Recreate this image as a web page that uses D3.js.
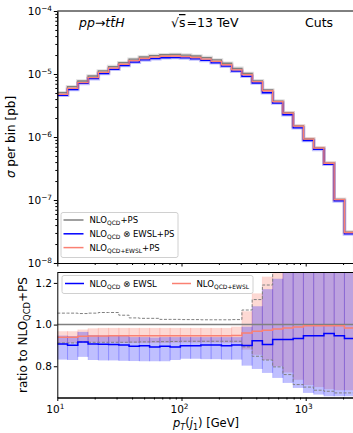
<!DOCTYPE html>
<html>
<head>
<meta charset="utf-8">
<script src="https://cdn.jsdelivr.net/npm/d3@7"></script>
<style>
  body { margin: 0; background: #fff; }
  svg { font-family: "DejaVu Sans", sans-serif; display: block; }
</style>
</head>
<body>
<div id="chart"></div>
<script>
// pT(j1) bin edges [GeV]
const binEdges = [10, 12.09, 14.63, 17.69, 21.40, 25.88, 31.29, 37.85, 45.77, 55.36, 66.94,
    80.96, 97.92, 118.4, 143.2, 173.2, 209.5, 253.4, 306.4, 370.6, 448.1,
    541.9, 655.4, 792.7, 958.7, 1159, 1402, 1696, 2051, 2481, 3000];

// NLO_QCD+PS, sigma per bin [pb]
const sigmaQcdPs = [5.05e-6, 6.3e-6, 7.74e-6, 9.3e-6, 1.12e-5, 1.31e-5, 1.51e-5, 1.72e-5, 1.86e-5, 1.96e-5,
    2.02e-5, 2.04e-5, 2.0e-5, 1.93e-5, 1.82e-5, 1.67e-5, 1.48e-5, 1.23e-5, 1.02e-5, 7.8e-6,
    5.57e-6, 3.72e-6, 2.43e-6, 1.5e-6, 9.3e-7, 6.7e-7, 3.85e-7, 1.02e-7, 3.1e-8, 1.2e-8];

// ratios to NLO_QCD+PS
const ratioMult = [0.907, 0.901, 0.917, 0.907, 0.906, 0.905, 0.902, 0.896, 0.899, 0.893,
    0.896, 0.893, 0.899, 0.899, 0.902, 0.902, 0.899, 0.902, 0.900, 0.923,
    0.905, 0.928, 0.928, 0.933, 0.947, 0.947, 0.957, 0.947, 0.933, 0.930];
const ratioAdd = [0.939, 0.939, 0.944, 0.945, 0.945, 0.946, 0.946, 0.946, 0.947, 0.947,
    0.947, 0.947, 0.947, 0.947, 0.947, 0.947, 0.947, 0.948, 0.960, 0.968,
    0.973, 0.979, 0.984, 0.989, 0.995, 0.995, 0.995, 0.995, 0.984, 0.980];

// scale uncertainty of NLO_QCD+PS (dashed)
const qcdUp = [1.055, 1.055, 1.053, 1.055, 1.058, 1.058, 1.045, 1.032, 1.030, 1.030,
    1.025, 1.025, 1.024, 1.024, 1.023, 1.023, 1.023, 1.024, 1.070, 1.120,
    1.190, 1.320, 1.400, 1.450, 1.500, 1.500, 1.500, 1.500, 1.500, 1.500];
const qcdDown = [0.912, 0.912, 0.917, 0.915, 0.915, 0.915, 0.915, 0.916, 0.917, 0.918,
    0.918, 0.919, 0.920, 0.920, 0.920, 0.920, 0.920, 0.920, 0.893, 0.848,
    0.830, 0.797, 0.760, 0.712, 0.700, 0.685, 0.680, 0.672, 0.672, 0.670];

// bands of NLO_QCD x EWSL
const multDown = [0.832, 0.830, 0.845, 0.830, 0.828, 0.828, 0.826, 0.825, 0.824, 0.824,
    0.824, 0.830, 0.836, 0.836, 0.834, 0.834, 0.832, 0.832, 0.803, 0.787,
    0.768, 0.744, 0.720, 0.696, 0.672, 0.664, 0.656, 0.656, 0.656, 0.650];
const multUp = [0.947, 0.945, 0.965, 0.950, 0.948, 0.947, 0.945, 0.940, 0.940, 0.938,
    0.940, 0.940, 0.940, 0.940, 0.940, 0.940, 0.940, 0.940, 0.990, 1.088,
    1.170, 1.220, 1.300, 1.400, 1.500, 1.500, 1.500, 1.500, 1.500, 1.500];

// bands of NLO_QCD+EWSL
const addDown = [0.912, 0.912, 0.915, 0.914, 0.914, 0.914, 0.913, 0.912, 0.912, 0.912,
    0.912, 0.913, 0.914, 0.914, 0.914, 0.914, 0.913, 0.913, 0.880, 0.855,
    0.830, 0.800, 0.770, 0.735, 0.710, 0.700, 0.690, 0.685, 0.685, 0.680];
const addUp = [0.968, 0.968, 0.976, 0.982, 0.984, 0.984, 0.984, 0.984, 0.984, 0.984,
    0.984, 0.984, 0.984, 0.984, 0.984, 0.984, 0.984, 0.990, 1.064, 1.150,
    1.230, 1.300, 1.400, 1.500, 1.500, 1.500, 1.500, 1.500, 1.500, 1.500];

const yTopTicks = [-8, -7, -6, -5, -4];
const yRatioTicks = [0.8, 1.0, 1.2];
const xTickExp = [1, 2, 3];

const W = 353, H = 433;
const cGray = "#808080", cBlue = "#0000ff", cRed = "#fa8072";

const svg = d3.select("#chart").append("svg")
    .attr("width", W)
    .attr("height", H);

// scales
const x = d3.scaleLog().domain([10, 3000]).range([57.3, 57.3 + 124.2 * Math.log10(300)]);
const yTop = d3.scaleLog().domain([1e-8, 1e-4]).range([263, 11]);
const yRat = d3.scaleLinear().domain([0.65, 1.25]).range([397.5, 272.5]);

const defs = svg.append("defs");
defs.append("clipPath").attr("id", "clipTop").append("rect")
    .attr("x", x(10)).attr("y", 11).attr("width", 320).attr("height", 252);
defs.append("clipPath").attr("id", "clipRat").append("rect")
    .attr("x", x(10)).attr("y", 272.5).attr("width", 320).attr("height", 125);

// minor ticks for log axes
const xMinor = [];
[10, 100, 1000].forEach(d => { for (let m = 2; m <= 9; m++) if (d * m <= 3000) xMinor.push(d * m); });
const yMinor = [];
[1e-8, 1e-7, 1e-6, 1e-5].forEach(d => { for (let m = 2; m <= 9; m++) yMinor.push(d * m); });

// text with sub/superscripts: parts = [[text, "sub"|"sup"|null, italic], ...]
function rich(sel, parts, size) {
    let shift = 0;
    parts.forEach(p => {
        const t = sel.append("tspan").text(p[0]);
        let target = 0;
        if (p[1] === "sub") target = size * 0.25;
        if (p[1] === "sup") target = -size * 0.42;
        t.attr("dy", target - shift);
        shift = target;
        t.style("font-size", p[1] ? (size * 0.7) + "px" : size + "px");
        if (p[2]) t.style("font-style", "italic");
    });
    return sel;
}

function stepLine(vals, y) {
    const pts = binEdges.map((e, i) => [e, vals[Math.min(i, vals.length - 1)]]);
    return d3.line().x(d => x(d[0])).y(d => y(d[1])).curve(d3.curveStepAfter)(pts);
}

/* ---------- top panel ---------- */
const topPanel = svg.append("g");
const topPlot = topPanel.append("g").attr("clip-path", "url(#clipTop)");

const curves = [
    {vals: sigmaQcdPs, color: cGray},
    {vals: sigmaQcdPs.map((v, i) => v * ratioMult[i]), color: cBlue},
    {vals: sigmaQcdPs.map((v, i) => v * ratioAdd[i]), color: cRed}
];
curves.forEach(c => {
    topPlot.append("path")
        .attr("d", stepLine(c.vals, yTop))
        .attr("fill", "none")
        .attr("stroke", c.color)
        .attr("stroke-opacity", 0.25)
        .attr("stroke-width", 3.5);
});
curves.forEach(c => {
    topPlot.append("path")
        .attr("d", stepLine(c.vals, yTop))
        .attr("fill", "none")
        .attr("stroke", c.color)
        .attr("stroke-width", 1.3);
});

// axes of top panel
topPanel.append("g").attr("transform", `translate(${x(10)},0)`)
    .call(d3.axisLeft(yTop).tickValues(yMinor).tickSize(2).tickSizeOuter(0).tickFormat(""));
topPanel.append("g").attr("transform", `translate(${x(10)},0)`)
    .call(d3.axisLeft(yTop).tickValues(yTopTicks.map(e => Math.pow(10, e))).tickSize(3.5).tickSizeOuter(0).tickFormat(""));
topPanel.append("g").attr("transform", "translate(0,263)")
    .call(d3.axisBottom(x).tickValues(xMinor).tickSize(2).tickSizeOuter(0).tickFormat(""));
topPanel.append("g").attr("transform", "translate(0,263)")
    .call(d3.axisBottom(x).tickValues(xTickExp.map(e => Math.pow(10, e))).tickSize(3.5).tickSizeOuter(0).tickFormat(""));
topPanel.append("line").attr("x1", x(10)).attr("x2", W).attr("y1", 11).attr("y2", 11)
    .attr("stroke", "#000").attr("stroke-width", 1);

yTopTicks.forEach(e => {
    const t = topPanel.append("text")
        .attr("x", 52).attr("y", yTop(Math.pow(10, e)) + 4)
        .attr("text-anchor", "end");
    rich(t, [["10", null], ["\u2212" + Math.abs(e), "sup"]], 10.5);
});

// annotations
const ann1 = topPanel.append("text").attr("x", 79).attr("y", 27);
rich(ann1, [["pp", null, true], ["\u2192", null], ["t", null, true], ["t\u0304", null, true], ["H", null, true]], 12.5);
const ann2 = topPanel.append("text").attr("x", 171).attr("y", 27).style("font-size", "12.5px");
ann2.append("tspan").text("\u221A");
ann2.append("tspan").text("s").style("text-decoration", "overline");
ann2.append("tspan").text("=13 TeV").attr("dx", 1);
topPanel.append("text").attr("x", 305).attr("y", 27).style("font-size", "12.5px").text("Cuts");

topPanel.append("text")
    .attr("transform", `translate(15,${(11 + 263) / 2}) rotate(-90)`)
    .attr("text-anchor", "middle")
    .call(s => rich(s, [["\u03C3", null, true], [" per bin [pb]", null]], 12));

// legend top
const leg1 = topPanel.append("g");
leg1.append("rect").attr("x", 61).attr("y", 212.5).attr("width", 117).attr("height", 45)
    .attr("rx", 2).attr("fill", "#fff").attr("fill-opacity", 0.8).attr("stroke", "#d0d0d0");
const legItems1 = [
    {color: cGray, parts: [["NLO", null], ["QCD", "sub"], ["+PS", null]]},
    {color: cBlue, parts: [["NLO", null], ["QCD", "sub"], [" \u2297 EWSL+PS", null]]},
    {color: cRed, parts: [["NLO", null], ["QCD+EWSL", "sub"], ["+PS", null]]}
];
legItems1.forEach((d, i) => {
    const yy = 220 + i * 13.8;
    leg1.append("line").attr("x1", 63.5).attr("x2", 83.5).attr("y1", yy).attr("y2", yy)
        .attr("stroke", d.color).attr("stroke-width", 1.5);
    rich(leg1.append("text").attr("x", 89.5).attr("y", yy + 3), d.parts, 8.5);
});

/* ---------- ratio panel ---------- */
const rat = svg.append("g");
const ratPlot = rat.append("g").attr("clip-path", "url(#clipRat)");

function bandRects(lo, hi, color, op) {
    const g = ratPlot.append("g");
    lo.forEach((v, i) => {
        const x0 = x(binEdges[i]), x1 = x(binEdges[i + 1]);
        g.append("rect").attr("x", x0).attr("width", x1 - x0)
            .attr("y", yRat(hi[i])).attr("height", yRat(v) - yRat(hi[i]))
            .attr("fill", color).attr("fill-opacity", op);
        [x0, x1].forEach(xx => g.append("line")
            .attr("x1", xx).attr("x2", xx).attr("y1", yRat(hi[i])).attr("y2", yRat(v))
            .attr("stroke", color).attr("stroke-opacity", op * 0.6).attr("stroke-width", 1));
    });
}
bandRects(addDown, addUp, cRed, 0.3);
bandRects(multDown, multUp, cBlue, 0.25);

ratPlot.append("line").attr("x1", x(10)).attr("x2", W).attr("y1", yRat(1)).attr("y2", yRat(1))
    .attr("stroke", cGray).attr("stroke-width", 1.5);

[qcdUp, qcdDown].forEach(v => {
    ratPlot.append("path").attr("d", stepLine(v, yRat))
        .attr("fill", "none").attr("stroke", cGray).attr("stroke-width", 1)
        .attr("stroke-dasharray", "3,1.6");
});
ratPlot.append("path").attr("d", stepLine(ratioMult, yRat))
    .attr("fill", "none").attr("stroke", cBlue).attr("stroke-width", 1.5);
ratPlot.append("path").attr("d", stepLine(ratioAdd, yRat))
    .attr("fill", "none").attr("stroke", cRed).attr("stroke-width", 1.5);

// axes of ratio panel
rat.append("g").attr("transform", `translate(${x(10)},0)`)
    .call(d3.axisLeft(yRat).tickValues(yRatioTicks).tickSize(3.5).tickSizeOuter(0).tickFormat(""));
rat.append("g").attr("transform", "translate(0,397.5)")
    .call(d3.axisBottom(x).tickValues(xMinor).tickSize(2).tickSizeOuter(0).tickFormat(""));
rat.append("g").attr("transform", "translate(0,397.5)")
    .call(d3.axisBottom(x).tickValues(xTickExp.map(e => Math.pow(10, e))).tickSize(3.5).tickSizeOuter(0).tickFormat(""));
rat.append("line").attr("x1", x(10)).attr("x2", W).attr("y1", 272.5).attr("y2", 272.5)
    .attr("stroke", "#000").attr("stroke-width", 1);

yRatioTicks.forEach(v => {
    rat.append("text").attr("x", 52).attr("y", yRat(v) + 3.8)
        .attr("text-anchor", "end").style("font-size", "10.5px")
        .text(d3.format(".1f")(v));
});
xTickExp.forEach(e => {
    const t = rat.append("text").attr("x", x(Math.pow(10, e)) - 2).attr("y", 413)
        .attr("text-anchor", "middle");
    rich(t, [["10", null], [String(e), "sup"]], 10.5);
});

rat.append("text")
    .attr("transform", `translate(206,427)`)
    .attr("text-anchor", "middle")
    .call(s => rich(s, [["p", null, true], ["T", "sub", true], ["(", null], ["j", null, true], ["1", "sub"], [") [GeV]", null]], 11.5));

rat.append("text")
    .attr("transform", `translate(27,${(272.5 + 397.5) / 2}) rotate(-90)`)
    .attr("text-anchor", "middle")
    .call(s => rich(s, [["ratio to NLO", null], ["QCD", "sub"], ["+PS", null]], 12));

// legend ratio
const leg2 = rat.append("g");
leg2.append("rect").attr("x", 62).attr("y", 275.5).attr("width", 191).attr("height", 18)
    .attr("rx", 2).attr("fill", "#fff").attr("fill-opacity", 0.8).attr("stroke", "#d0d0d0");
const legItems2 = [
    {color: cBlue, x: 65, parts: [["NLO", null], ["QCD", "sub"], [" \u2297 EWSL", null]]},
    {color: cRed, x: 172, parts: [["NLO", null], ["QCD+EWSL", "sub"]]}
];
legItems2.forEach(d => {
    const yy = 283.5;
    leg2.append("line").attr("x1", d.x).attr("x2", d.x + 19).attr("y1", yy).attr("y2", yy)
        .attr("stroke", d.color).attr("stroke-width", 1.5);
    rich(leg2.append("text").attr("x", d.x + 24.5).attr("y", yy + 3), d.parts, 8.5);
});
</script>
</body>
</html>
